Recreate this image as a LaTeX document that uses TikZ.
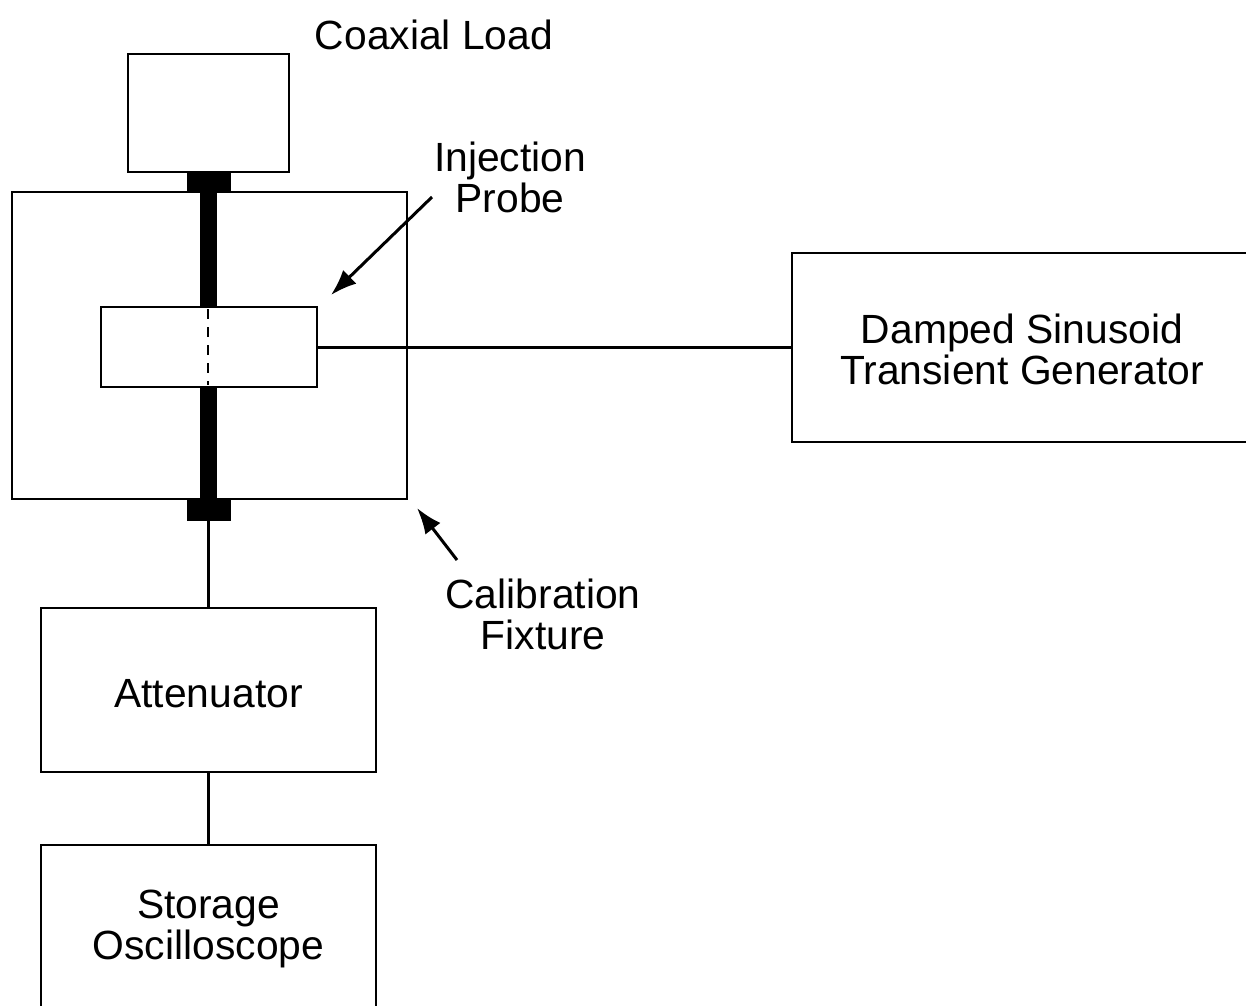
\documentclass[tikz,border=0pt]{standalone}
\usepackage{fontspec}
\setmainfont{Liberation Sans}
\usetikzlibrary{arrows.meta}
\begin{document}
\begin{tikzpicture}[x=1pt,y=-1pt,
  box/.style={draw,line width=2pt,inner sep=0pt,outer sep=0pt,align=center,
    font=\fontsize{40.8}{41}\selectfont},
  solid/.style={fill=black,draw=none,inner sep=0pt,outer sep=0pt},
  lbl/.style={align=center,inner sep=0pt,font=\fontsize{40.8}{41}\selectfont},
  wire/.style={line width=3pt},
  ptr/.style={line width=3pt,-{Latex[length=26pt,width=19pt]}}]
\useasboundingbox (0,0) rectangle (1246,1005);
\clip (0,0) rectangle (1246,1005);
% boxes
\node[box,minimum width=161pt,minimum height=118pt] (load) at (208.5,113) {};
\node[box,minimum width=395pt,minimum height=307pt] (fix) at (209.5,345.5) {};
\node[box,minimum width=460pt,minimum height=189pt] (gen) at (1022,347.5) {};
\node[lbl] (tgen) at (1022,349) {Damped Sinusoid\\Transient Generator};
\node[box,minimum width=335pt,minimum height=164pt] (att) at (208.5,690) {};
\node[lbl] (tatt) at (208.5,694) {Attenuator};
\node[box,minimum width=335pt,minimum height=166pt] (osc) at (208.5,928) {};
\node[lbl] (tosc) at (208.5,929) {Storage\\Oscilloscope};
% coax connectors and center conductor
\node[solid,minimum width=44pt,minimum height=20pt] (topc) at (209,182) {};
\node[solid,minimum width=44pt,minimum height=21pt] (botc) at (209,510.5) {};
\node[solid,minimum width=17pt,minimum height=310pt] (cond) at (208.5,346) {};
% probe
\node[box,fill=white,minimum width=216pt,minimum height=80pt] (probe) at (209,347) {};
\draw[line width=2pt,dash pattern=on 10pt off 8pt] ([yshift=-2pt]probe.north -| 208,0) -- ([yshift=2pt]probe.south -| 208,0);
% wires
\draw[wire] (botc.south -| att.north) -- (att.north);
\draw[wire] (att.south) -- (osc.north);
\draw[wire] (probe.east) -- (probe.east -| gen.west);
% labels
\node[lbl] (tload) at (434,35) {Coaxial Load};
\node[lbl] (tprobe) at (510,177) {Injection\\Probe};
\node[lbl] (tfix) at (543,614) {Calibration\\Fixture};
\coordinate (pa) at (432,197);
\coordinate (pb) at (331,295);
\coordinate (fa) at (457,560);
\coordinate (fb) at (417,508);
\draw[ptr] (pa) -- (pb);
\draw[ptr] (fa) -- (fb);
\end{tikzpicture}
\end{document}
